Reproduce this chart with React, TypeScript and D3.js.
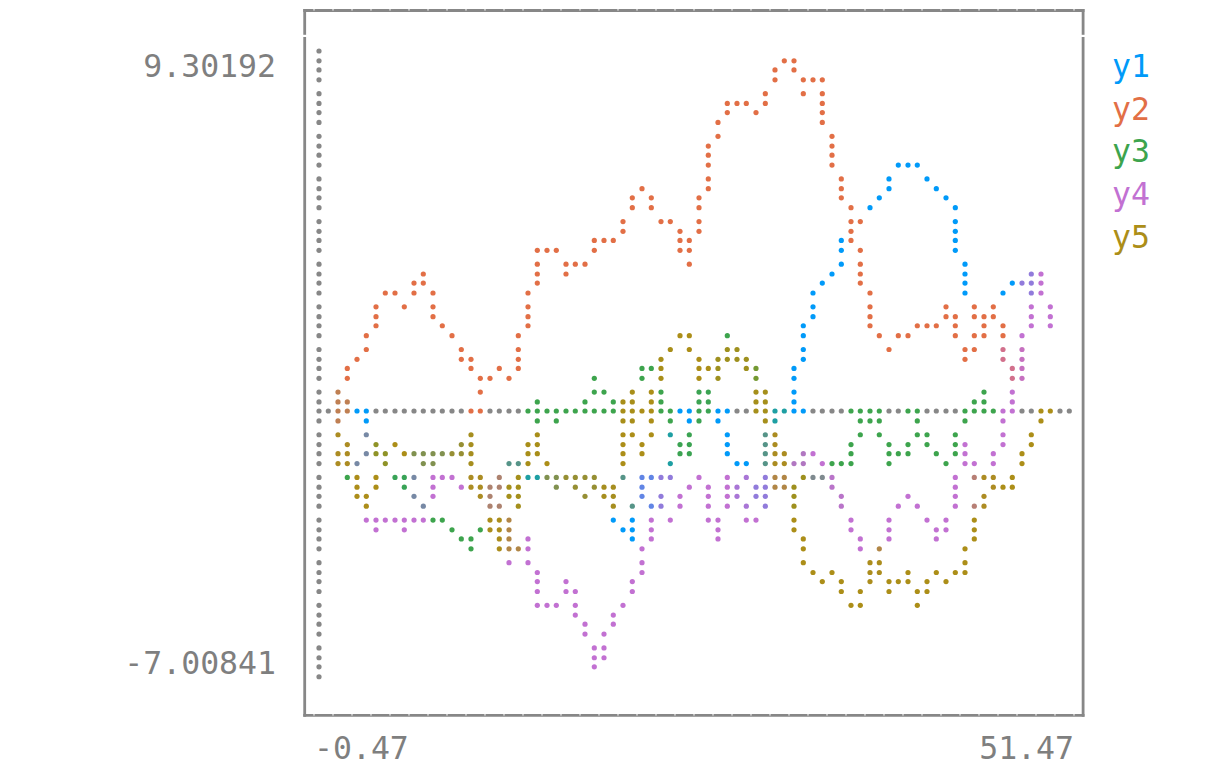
import React, { useMemo } from 'react';
import * as d3 from 'd3';

// Axis limits / tick labels as printed on the chart
const xTickLabels = ['-0.47', '51.47'];
const yTickLabels = ['9.30192', '-7.00841'];
const xLimits: [number, number] = [-0.47, 51.47];
const yLimits: [number, number] = [-7.00841, 9.30192];

const seriesNames = ['y1', 'y2', 'y3', 'y4', 'y5'];
const seriesColors = ['#009af9', '#e26f46', '#3da44d', '#c271d2', '#ac8e18'];

// Series values (x = 1, 2, 3, ...)
const y1 = [0.33, 0.2, -0.35, -1.03, -1.71, -1.84, -1.57, -1.17, -1.17, -1.3, -1.84, -1.98, -1.44, -1.84, -1.71, -1.84, -1.71, -2.2, -1.65, -2.79, -3.34, -1.71, -1.71, -1.57, -0.62, 0.47, -0.08, -1.17, -1.44, -2.25, -0.08, -0.08, 1.75, 3.19, 3.51, 4.55, 4.95, 5.36, 5.77, 6.2, 6.09, 5.5, 5.28, 2.91, 2.1, 2.64, 3.19, 3.1, 3.46];
const y2 = [0.2, 1.01, 1.61, 2.64, 2.91, 2.64, 3.46, 2.1, 1.83, 1.2, 0.52, 1.01, 0.74, 2.37, 3.87, 4.0, 3.46, 3.78, 4.33, 4.27, 5.09, 5.63, 4.82, 4.82, 3.73, 5.22, 7.32, 7.81, 7.81, 7.54, 8.62, 8.84, 8.08, 8.35, 6.45, 5.09, 3.19, 1.83, 1.55, 1.88, 2.1, 2.1, 2.64, 1.28, 1.96, 2.64, 0.93, 0.47];
const y3 = [-1.03, -1.65, -1.17, -0.76, -1.71, -2.11, -2.52, -2.79, -3.07, -3.61, -3.01, -2.39, -2.11, -1.84, 0.06, -0.35, -0.08, 0.06, 0.74, 0.11, 0.33, 0.88, 1.01, -0.62, -1.17, 0.33, 0.88, 1.83, 1.15, 0.74, -0.76, -1.44, -1.71, -1.71, -1.57, -1.38, -0.29, -0.35, -1.38, -1.17, -0.35, -1.17, -1.38, -0.08, 0.47, -0.08];
const y4 = [-0.35, -1.17, -2.74, -3.01, -2.74, -3.01, -2.79, -1.65, -1.71, -2.11, -1.71, -2.47, -3.88, -3.28, -4.97, -4.97, -4.43, -5.79, -6.547, -5.11, -4.7, -3.88, -2.25, -2.79, -1.98, -1.71, -3.34, -1.71, -2.79, -2.74, -1.57, -1.57, -1.17, -1.3, -1.98, -2.79, -3.61, -3.83, -2.79, -2.2, -2.6, -3.28, -2.74, -0.76, -1.71, -1.44, 0.2, 1.42, 3.46, 2.1];
const y5 = [-0.35, -1.3, -2.39, -1.71, -0.89, -1.17, -1.17, -1.17, -1.17, -0.62, -2.11, -3.61, -3.07, -0.76, -1.17, -1.98, -1.71, -1.71, -1.71, -2.39, 0.2, -1.17, 0.88, 1.69, 1.83, 0.79, 1.01, 1.55, 1.28, 0.33, -0.89, -2.11, -3.88, -4.43, -4.02, -4.92, -4.83, -3.56, -4.7, -4.15, -4.92, -4.15, -4.43, -4.1, -2.39, -1.71, -2.06, -1.44, -0.21, -0.02];

const seriesValues = [y1, y2, y3, y4, y5];

const COLS = 80; // braille dot columns (40 chars x 2)
const ROWS = 60; // braille dot rows (15 chars x 4)
const GRAY = '#878787';
const FONT = '"DejaVu Sans Mono", "Liberation Mono", monospace';

const SUB_Y = [0, 9.8, 18.9, 28.8];
const dotX = (c: number) => 319 + 19 * Math.floor(c / 2) + 9.3 * (c % 2);
const dotY = (r: number) => 51 + 42.64 * Math.floor(r / 4) + SUB_Y[r % 4];

type Dot = { c: number; r: number };

export default function App() {
  const { dots, cellColors } = useMemo(() => {
    const px = d3.scaleLinear().domain(xLimits).range([0, COLS]);
    const py = d3.scaleLinear().domain([yLimits[1], yLimits[0]]).range([0, ROWS]);
    const dotMap = new Map<string, Dot>();
    const cellMap = new Map<string, number[]>();

    const pixel = (fx: number, fy: number, col: number[] | null, overwrite: boolean) => {
      if (!(fx >= 0 && fx <= COLS && fy >= 0 && fy <= ROWS)) return;
      const c = Math.min(Math.floor(fx), COLS - 1);
      const r = Math.min(Math.floor(fy), ROWS - 1);
      dotMap.set(c + ',' + r, { c, r });
      if (col) {
        const key = Math.floor(c / 2) + ',' + Math.floor(r / 4);
        const prev = cellMap.get(key);
        if (!prev || overwrite) cellMap.set(key, col);
        else if (prev.join() !== col.join()) cellMap.set(key, prev.map((v, i) => Math.floor((v + col[i]) / 2)));
      }
    };

    const line = (x1: number, v1: number, x2: number, v2: number, col: number[] | null, ow: boolean) => {
      const a = px(x1), b = py(v1), c = px(x2), d = py(v2);
      const dx = c - a, dy = d - b;
      const n = Math.max(Math.abs(dx), Math.abs(dy));
      pixel(a, b, col, ow);
      if (n === 0) return;
      const ix = dx / n, iy = dy / n;
      let cx = a, cy = b;
      for (let k = 1; k <= Math.floor(n); k++) {
        cx += ix;
        cy += iy;
        pixel(cx, cy, col, ow);
      }
    };

    // zero lines (uncoloured)
    line(xLimits[0], 0, xLimits[1], 0, null, false);
    line(0, yLimits[0], 0, yLimits[1], null, false);

    seriesValues.forEach((vals, si) => {
      const rgb = d3.rgb(seriesColors[si]);
      const col = [rgb.r, rgb.g, rgb.b];
      for (let i = 0; i < vals.length - 1; i++) {
        line(i + 1, vals[i], i + 2, vals[i + 1], col, si === 1);
      }
    });

    return { dots: Array.from(dotMap.values()), cellColors: cellMap };
  }, []);

  const colorOf = (d: Dot) => {
    const cc = cellColors.get(Math.floor(d.c / 2) + ',' + Math.floor(d.r / 4));
    return cc ? d3.rgb(cc[0], cc[1], cc[2]).formatHex() : GRAY;
  };

  const charBounds = d3.range(0, 41).map((k) => 314 + 19 * k);

  return (
    <svg
      width={1216}
      height={768}
      style={{ position: 'absolute', left: 0, top: 0, background: '#ffffff' }}
    >
      <rect x={0} y={0} width={1216} height={768} fill="#ffffff" />
      {/* frame */}
      <g stroke={GRAY} strokeWidth={2.8} fill="none">
        <line x1={303.3} y1={10.5} x2={1084.5} y2={10.5} />
        <line x1={303.3} y1={715.4} x2={1084.5} y2={715.4} />
        <line x1={304.7} y1={9.1} x2={304.7} y2={716.8} />
        <line x1={1083.1} y1={9.1} x2={1083.1} y2={716.8} />
      </g>
      <g fill="#ffffff">
        {charBounds.map((x) => (
          <React.Fragment key={x}>
            <rect x={x - 0.5} y={9} width={1} height={1.6} />
            <rect x={x - 0.5} y={714} width={1} height={1.6} />
          </React.Fragment>
        ))}
        <rect x={302} y={34.8} width={5} height={2.2} />
        <rect x={1080} y={34.8} width={5} height={2.2} />
      </g>
      {/* dots */}
      <g>
        {dots.map((d) => (
          <circle key={d.c + '-' + d.r} cx={dotX(d.c)} cy={dotY(d.r)} r={2.6} fill={colorOf(d)} />
        ))}
      </g>
      {/* axis tick labels */}
      <g fontFamily={FONT} fontSize={31.5} fill="#7f7f7f">
        <text x={276} y={77} textAnchor="end">{yTickLabels[0]}</text>
        <text x={276} y={674} textAnchor="end">{yTickLabels[1]}</text>
        <text x={314} y={759}>{xTickLabels[0]}</text>
        <text x={1074} y={759} textAnchor="end">{xTickLabels[1]}</text>
      </g>
      {/* legend */}
      <g fontFamily={FONT} fontSize={31.5}>
        {seriesNames.map((n, i) => (
          <text key={n} x={1112} y={77 + 42.64 * i} fill={seriesColors[i]}>
            {n}
          </text>
        ))}
      </g>
    </svg>
  );
}
